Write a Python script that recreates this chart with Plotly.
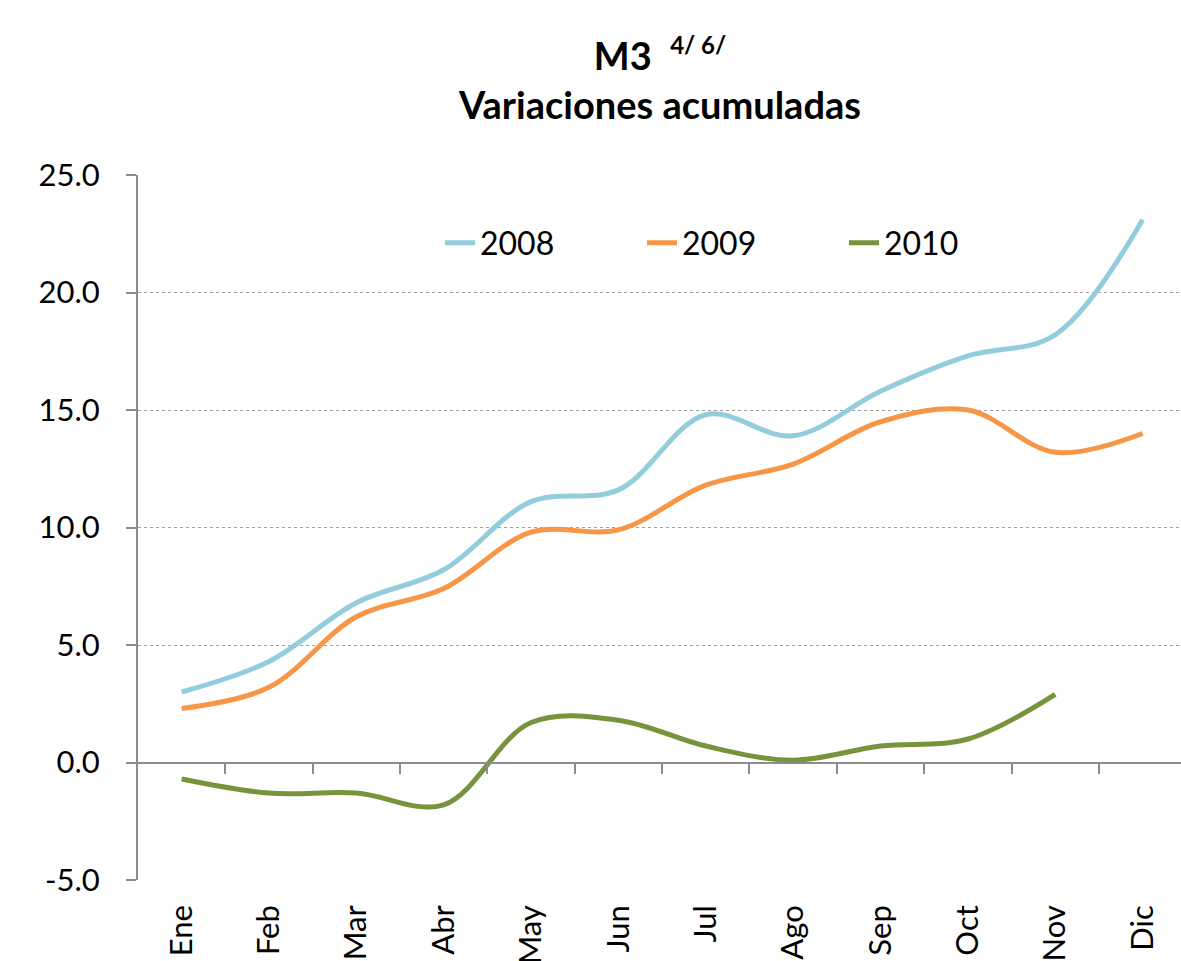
import plotly.graph_objects as go

months = ["Ene", "Feb", "Mar", "Abr", "May", "Jun", "Jul", "Ago", "Sep", "Oct", "Nov", "Dic"]
y2008 = [3.0, 4.3, 6.8, 8.2, 11.1, 11.6, 14.8, 13.9, 15.8, 17.3, 18.2, 23.1]
y2009 = [2.3, 3.2, 6.2, 7.4, 9.8, 9.9, 11.8, 12.7, 14.5, 15.0, 13.2, 14.0]
y2010 = [-0.7, -1.3, -1.3, -1.8, 1.7, 1.8, 0.7, 0.1, 0.7, 1.0, 2.9]
ytick_vals = [-5, 0, 5, 10, 15, 20, 25]
ytick_text = ["-5.0", "0.0", "5.0", "10.0", "15.0", "20.0", "25.0"]

FONT = "Lato"
GRAY = "#8c8c8c"

fig = go.Figure()
for name, ys, col in [("2008", y2008, "#93CDDD"), ("2009", y2009, "#F79646"), ("2010", y2010, "#77933C")]:
    fig.add_trace(go.Scatter(x=months[:len(ys)], y=ys, name=name, mode="lines",
                             line=dict(color=col, width=5, shape="spline", smoothing=1.0)))

# helper trace for the category axis drawn at y = 0 (ticks between categories)
idx = list(range(len(months)))
fig.add_trace(go.Scatter(x=idx, y=[None] * len(months), xaxis="x2", showlegend=False,
                         hoverinfo="skip", mode="lines"))
boundaries = [i + 0.5 for i in idx[:-1]]

L, R, T, B = 138, 0, 175, 81
fig.update_layout(
    width=1181, height=961,
    margin=dict(l=L, r=R, t=T, b=B, autoexpand=False),
    paper_bgcolor="white", plot_bgcolor="white",
    font=dict(family=FONT, size=31, color="black"),
    title=dict(text="<b>M3  <sup><span style='font-size:24px'>4/ 6/</span></sup></b><br><b>Variaciones acumuladas</b>",
               x=660 / 1181, xref="container", xanchor="center",
               y=1 - 70 / 961, yanchor="top", yref="container",
               font=dict(family=FONT, size=38, color="black")),
    showlegend=True,
    legend=dict(orientation="h", x=(440 - L) / 1043, y=(880 - 243) / 705, xanchor="left", yanchor="middle",
                font=dict(family=FONT, size=32), entrywidth=157, bgcolor="rgba(0,0,0,0)"),
    xaxis=dict(type="category", categoryorder="array", categoryarray=months,
               range=[-0.5, 11.44], showline=False, showgrid=False, ticks="",
               tickangle=-90, tickfont=dict(family=FONT, size=31), ticklabelstandoff=18,
               automargin=False),
    xaxis2=dict(type="linear", range=[-0.5, 11.44], overlaying="x", anchor="free",
                position=1/6, side="bottom",
                showline=True, linecolor=GRAY, linewidth=2, showgrid=False, zeroline=False,
                tickmode="array", tickvals=boundaries,
                ticks="outside", ticklen=10, tickwidth=1.5, tickcolor=GRAY,
                showticklabels=False, automargin=False),
    yaxis=dict(range=[-5, 25], tickmode="array", tickvals=ytick_vals, ticktext=ytick_text,
               showline=True, linecolor=GRAY, linewidth=2,
               ticks="outside", ticklen=10, tickwidth=1.5, tickcolor=GRAY,
               showgrid=True, gridcolor="#a0a0a0", griddash="dot", gridwidth=1,
               zeroline=False, tickfont=dict(family=FONT, size=31), ticklabelstandoff=20,
               automargin=False),
)

fig.write_html("out.html", config={"displayModeBar": False},
               post_script="document.body.style.margin='0';document.body.style.overflow='hidden';")
